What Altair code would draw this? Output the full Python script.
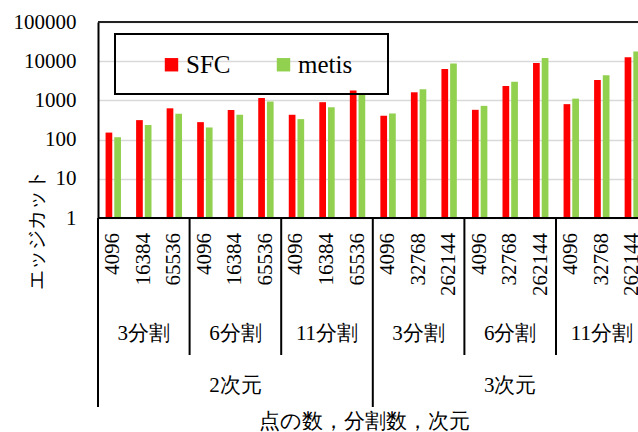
import altair as alt
import pandas as pd

# ---- data ----
dims = ["2次元"] * 9 + ["3次元"] * 9
parts = (["3分割"] * 3 + ["6分割"] * 3 + ["11分割"] * 3) * 2
points = ["4096", "16384", "65536"] * 3 + ["4096", "32768", "262144"] * 3
sfc = [151, 314, 628, 279, 569, 1150, 430, 900, 1790,
       406, 1610, 6350, 575, 2320, 9010, 802, 3300, 12600]
metis = [115, 236, 457, 204, 430, 935, 333, 668, 1450,
         464, 1920, 8700, 726, 2990, 12000, 1110, 4400, 17600]
series = ["SFC", "metis"]
colors = ["#FF0000", "#92D050"]
y_ticks = [1, 10, 100, 1000, 10000, 100000]
y_title = "エッジカット"
x_title = "点の数，分割数，次元"

FONT = "'Liberation Serif', 'DejaVu Serif', serif"

keys = [f"{d}|{p}|{n}|{i}" for i, (d, p, n) in enumerate(zip(dims, parts, points))]

bar_rows = []
for k, s, m in zip(keys, sfc, metis):
    bar_rows.append({"key": k, "series": "SFC", "value": s})
    bar_rows.append({"key": k, "series": "metis", "value": m})
bar_df = pd.DataFrame(bar_rows)

cat_df = pd.DataFrame({"key": keys, "point": points})
sub_df = pd.DataFrame({"key": [keys[i] for i in range(1, 18, 3)],
                       "label": [parts[i] for i in range(1, 18, 3)]})
dim_df = pd.DataFrame({"key": [keys[4], keys[13]], "label": [dims[4], dims[13]]})
sub_sep = pd.DataFrame({"key": [keys[i] for i in (3, 6, 12, 15)]})
dim_sep = pd.DataFrame({"key": [keys[i] for i in (0, 9)]})

W, H = 540, 196
xscale = alt.Scale(domain=keys, range=[0, 549.6], paddingInner=0, paddingOuter=0)

bars = alt.Chart(bar_df).mark_bar().encode(
    x=alt.X("key:N", scale=xscale, axis=None, sort=keys),
    xOffset=alt.XOffset("series:N", sort=series,
                        scale=alt.Scale(domain=series, paddingInner=0.23, paddingOuter=0.87)),
    y=alt.Y("value:Q",
            scale=alt.Scale(type="log", domain=[1, 100000]),
            axis=alt.Axis(values=y_ticks, format="d", ticks=False,
                          labelFont=FONT, labelFontSize=21, labelColor="black",
                          labelPadding=22, grid=True, gridColor="#d9d9d9", gridWidth=1.5,
                          domainColor="black", domainWidth=2,
                          title=y_title, titleAngle=270, titleX=-62, titleY=207,
                          titleAlign="center", titleBaseline="middle",
                          titleFont=FONT, titleFontSize=20, titleFontWeight="normal",
                          titleColor="black")),
    y2=alt.Y2(datum=1),
    color=alt.Color("series:N", sort=series,
                    scale=alt.Scale(domain=series, range=colors),
                    legend=alt.Legend(orient="none", legendX=61, legendY=30,
                                      direction="horizontal", title=None,
                                      symbolType="square", symbolSize=180,
                                      symbolStrokeWidth=0, labelFont=FONT,
                                      labelFontSize=25, labelColor="black",
                                      labelOffset=2, columnPadding=40, padding=0)),
)

num_labels = alt.Chart(cat_df).mark_text(
    angle=270, align="right", baseline="middle", font=FONT, fontSize=21, color="black"
).encode(x=alt.X("key:N", scale=xscale, sort=keys), y=alt.value(211), text="point:N")

sub_labels = alt.Chart(sub_df).mark_text(
    align="center", baseline="middle", font=FONT, fontSize=21, color="black"
).encode(x=alt.X("key:N", scale=xscale, sort=keys), y=alt.value(312), text="label:N")

dim_labels = alt.Chart(dim_df).mark_text(
    align="center", baseline="middle", font=FONT, fontSize=21, color="black"
).encode(x=alt.X("key:N", scale=xscale, sort=keys), y=alt.value(364), text="label:N")

sub_lines = alt.Chart(sub_sep).mark_rule(color="black", strokeWidth=2).encode(
    x=alt.X("key:N", scale=xscale, sort=keys, bandPosition=0),
    y=alt.value(H), y2=alt.value(333))

dim_lines = alt.Chart(dim_sep).mark_rule(color="black", strokeWidth=2).encode(
    x=alt.X("key:N", scale=xscale, sort=keys, bandPosition=0),
    y=alt.value(H), y2=alt.value(385))

frame_df = pd.DataFrame({"a": [0]})
bottom_line = alt.Chart(frame_df).mark_rule(color="black", strokeWidth=2).encode(
    x=alt.value(0), x2=alt.value(W), y=alt.value(H))
top_line = alt.Chart(frame_df).mark_rule(color="#222222", strokeWidth=2).encode(
    x=alt.value(0), x2=alt.value(W), y=alt.value(0))

legend_box = alt.Chart(frame_df).mark_rect(
    filled=False, stroke="black", strokeWidth=2
).encode(x=alt.value(17), x2=alt.value(290), y=alt.value(12), y2=alt.value(72))

xt = alt.Chart(pd.DataFrame({"t": [x_title]})).mark_text(
    align="center", baseline="middle", font=FONT, fontSize=21, color="black"
).encode(x=alt.value(266), y=alt.value(400), text="t:N")

chart = alt.layer(
    bars, top_line, bottom_line, sub_lines, dim_lines,
    num_labels, sub_labels, dim_labels, legend_box, xt
).properties(
    width=W, height=H,
    autosize=alt.AutoSizeParams(type="none"),
    padding={"left": 98, "top": 22, "right": 0, "bottom": 214},
).configure_view(stroke=None)

chart.save("out.html", embed_options={"renderer": "svg", "actions": False})
